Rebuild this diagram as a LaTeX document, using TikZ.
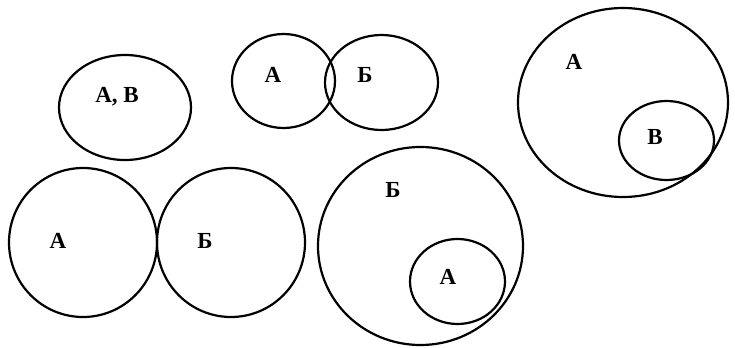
\documentclass[tikz,border=0pt]{standalone}
\usepackage{fontspec}
\setmainfont{Liberation Serif}
\usetikzlibrary{shapes.geometric}

\begin{document}
\begin{tikzpicture}[x=0.5pt,y=-0.5pt]
  \tikzstyle{set}=[draw,ellipse,line width=1.1pt,inner sep=0pt,outer sep=0pt]
  \tikzstyle{lbl}=[font=\bfseries\fontsize{11.5}{14}\selectfont,inner sep=0pt]
  \useasboundingbox (0,0) rectangle (735,348);

  % equal sets
  \node[set,minimum width=66pt,minimum height=52.5pt] (ab) at (125,107.5) {};
  \node[lbl] (lab) at (117,97) {А, В};

  % overlapping sets
  \node[set,minimum width=51.5pt,minimum height=47pt] (a1) at (283.5,81) {};
  \node[set,minimum width=56.5pt,minimum height=47.5pt] (b1) at (381.5,82.5) {};
  \node[lbl] (la1) at (273,75) {А};
  \node[lbl] (lb1) at (365,75) {Б};

  % B inside A
  \node[set,minimum width=105pt,minimum height=94.5pt] (bigA) at (623,102.5) {};
  \node[set,minimum width=47.5pt,minimum height=39.5pt] (smallB) at (666.5,140.5) {};
  \node[lbl] (lbigA) at (574,62) {А};
  \node[lbl] (lsmallB) at (655,137) {В};

  % disjoint sets
  \node[set,minimum width=74pt,minimum height=74.5pt] (a2) at (83,242.5) {};
  \node[set,minimum width=74pt,minimum height=74.5pt] (b2) at (231,242.5) {};
  \node[lbl] (la2) at (58,241) {А};
  \node[lbl] (lb2) at (205,241) {Б};

  % A inside B
  \node[set,minimum width=102.5pt,minimum height=99pt] (bigB) at (420.5,246) {};
  \node[set,minimum width=47.5pt,minimum height=42.5pt] (smallA) at (457.5,281.5) {};
  \node[lbl] (lbigB) at (393,190) {Б};
  \node[lbl] (lsmallA) at (448,277) {А};
\end{tikzpicture}
\end{document}
